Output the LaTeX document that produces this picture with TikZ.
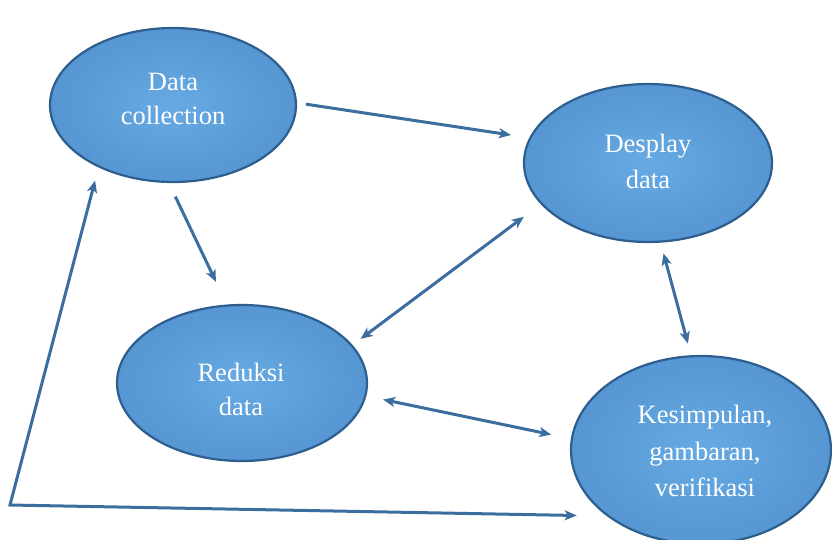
\documentclass[tikz,border=0pt]{standalone}
\usepackage{fontspec}
\setmainfont{Liberation Serif}
\usetikzlibrary{shapes.geometric,arrows.meta}
\definecolor{fillin}{HTML}{66AAE3}
\definecolor{fillout}{HTML}{5696D2}
\definecolor{rim}{HTML}{2D5E8E}
\definecolor{arrowc}{HTML}{3B6E9F}
\tikzset{
  bubble/.style={ellipse, draw=rim, line width=2.2pt, inner color=fillin, outer color=fillout, inner sep=0pt},
  bubbletext/.style={text=white, align=center, inner sep=0pt, font=\fontsize{26.5}{34}\selectfont},
  tip/.style={Stealth[length=12pt,width=10pt,inset=3pt]},
  arr/.style={draw=arrowc, line width=3pt, -{Stealth[length=12pt,width=10pt,inset=3pt]}},
  darr/.style={draw=arrowc, line width=3pt, {Stealth[length=12pt,width=10pt,inset=3pt]}-{Stealth[length=12pt,width=10pt,inset=3pt]}}
}
\begin{document}
\begin{tikzpicture}[x=1pt,y=-1pt]
\useasboundingbox (0,0) rectangle (832,539);
\node[bubble, minimum width=246pt, minimum height=154pt] (dc) at (173,105) {};
\node[bubble, minimum width=248pt, minimum height=158pt] (dd) at (648,163) {};
\node[bubble, minimum width=250pt, minimum height=156pt] (rd) at (242,383) {};
\node[bubble, minimum width=260pt, minimum height=188pt] (kv) at (701,450) {};
\node[bubbletext] (dctext) at (173,99) {Data\\collection};
\node[bubbletext, font=\fontsize{26.5}{36}\selectfont] (ddtext) at (648,161) {Desplay\\data};
\node[bubbletext] (rdtext) at (241,389) {Reduksi\\data};
\node[bubbletext, font=\fontsize{26.5}{36.5}\selectfont] (kvtext) at (705,451) {Kesimpulan,\\gambaran,\\verifikasi};
\coordinate (corner) at (10,505);
\draw[arr, shorten <=9pt, shorten >=18.5pt] (dc.1) -- (dd.168);
\draw[arr, shorten <=15pt, shorten >=25pt] (dc.267.5) -- (rd.101);
\draw[darr, shorten <=10pt, shorten >=21pt] (rd.19) -- (dd.201);
\draw[darr, shorten <=11pt, shorten >=12pt] (dd.279) -- (kv.96);
\draw[darr, shorten <=17pt, shorten >=20pt] (rd.-6) -- (kv.175);
\draw[darr, line join=miter, shorten <=13.5pt, shorten >=30pt] (dc.220.5) -- (corner) -- (kv.215);
\end{tikzpicture}
\end{document}
